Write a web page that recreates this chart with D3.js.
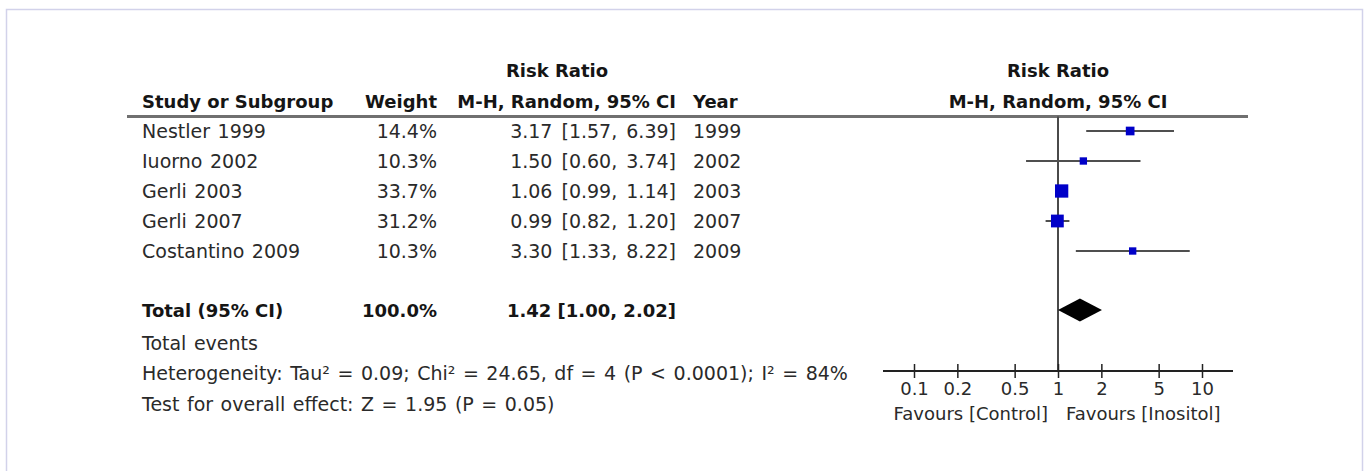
<!DOCTYPE html>
<html>
<head>
<meta charset="utf-8">
<script src="https://cdn.jsdelivr.net/npm/d3@7/dist/d3.min.js"></script>
<style>
  html, body { margin: 0; padding: 0; background: #fff; }
  svg { display: block; }
  text { font-family: "DejaVu Sans", sans-serif; }
</style>
</head>
<body>
<svg id="chart" width="1370" height="471"></svg>
<script>
// Study-level data for the forest plot
const studies = ["Nestler 1999", "Iuorno 2002", "Gerli 2003", "Gerli 2007", "Costantino 2009"];
const weights = [14.4, 10.3, 33.7, 31.2, 10.3];
const riskRatio = [3.17, 1.50, 1.06, 0.99, 3.30];
const ciLower = [1.57, 0.60, 0.99, 0.82, 1.33];
const ciUpper = [6.39, 3.74, 1.14, 1.20, 8.22];
const years = [1999, 2002, 2003, 2007, 2009];

// Pooled estimate
const totalLabel = "Total (95% CI)";
const totalWeight = 100.0;
const totalRR = 1.42;
const totalLower = 1.00;
const totalUpper = 2.02;

// Footer statistics
const footerLines = [
  "Total events",
  "Heterogeneity: Tau² = 0.09; Chi² = 24.65, df = 4 (P < 0.0001); I² = 84%",
  "Test for overall effect: Z = 1.95 (P = 0.05)"
];

// Axis ticks and favour labels
const axisTicks = [0.1, 0.2, 0.5, 1, 2, 5, 10];
const favourLeft = "Favours [Control]";
const favourRight = "Favours [Inositol]";

const svg = d3.select("#chart");

// light frame around the figure
svg.append("rect")
  .attr("x", 6.5).attr("y", 9.5)
  .attr("width", 1356).attr("height", 480)
  .attr("fill", "none")
  .attr("stroke", "#d2d2ea")
  .attr("stroke-width", 1.5);

// scales
const x = d3.scaleLog().domain([0.1, 10]).range([914, 1202]);
const rowY = d3.scaleLinear().domain([0, 1]).range([131, 161]);
const boxSize = d3.scaleSqrt().domain([0, 100]).range([0, 22.9]);

const fs = 18;      // bold headings, axis text
const fsBody = 19;  // table body and footer
const base = 6.5;   // baseline offset from row centre

const colStudy = 142, colWeight = 437, colCI = 676, colYear = 693;

function fmt2(v) { return v.toFixed(2); }
function ciText(r, lo, hi) { return fmt2(r) + " [" + fmt2(lo) + ", " + fmt2(hi) + "]"; }

// header
const hdr = svg.append("g").attr("font-weight", "bold").attr("fill", "#151515").attr("font-size", fs);
hdr.append("text").attr("x", 557).attr("y", 70 + base).attr("text-anchor", "middle").text("Risk Ratio");
hdr.append("text").attr("x", colStudy).attr("y", 101 + base).text("Study or Subgroup");
hdr.append("text").attr("x", colWeight).attr("y", 101 + base).attr("text-anchor", "end").text("Weight");
hdr.append("text").attr("x", colCI).attr("y", 101 + base).attr("text-anchor", "end").text("M-H, Random, 95% CI");
hdr.append("text").attr("x", colYear).attr("y", 101 + base).text("Year");
hdr.append("text").attr("x", x(1)).attr("y", 70 + base).attr("text-anchor", "middle").text("Risk Ratio");
hdr.append("text").attr("x", x(1)).attr("y", 101 + base).attr("text-anchor", "middle").text("M-H, Random, 95% CI");

// header rule
svg.append("line")
  .attr("x1", 127).attr("x2", 1248)
  .attr("y1", 116.5).attr("y2", 116.5)
  .attr("stroke", "#707070").attr("stroke-width", 3);

// study rows
const rows = svg.append("g").attr("font-size", fsBody).attr("word-spacing", 1.5).attr("fill", "#2a2a2a");
studies.forEach((s, i) => {
  const y = rowY(i) + base;
  rows.append("text").attr("x", colStudy).attr("y", y).text(s);
  rows.append("text").attr("x", colWeight).attr("y", y).attr("text-anchor", "end").text(weights[i].toFixed(1) + "%");
  rows.append("text").attr("x", colCI).attr("y", y).attr("text-anchor", "end")
    .attr("word-spacing", 3)
    .text(ciText(riskRatio[i], ciLower[i], ciUpper[i]));
  rows.append("text").attr("x", colYear).attr("y", y).text(years[i]);
});

// total row
const totY = rowY(6) - 1;
const tot = svg.append("g").attr("font-size", fs).attr("font-weight", "bold").attr("fill", "#151515");
tot.append("text").attr("x", colStudy).attr("y", totY + base).text(totalLabel);
tot.append("text").attr("x", colWeight).attr("y", totY + base).attr("text-anchor", "end").text(totalWeight.toFixed(1) + "%");
tot.append("text").attr("x", colCI).attr("y", totY + base).attr("text-anchor", "end")
  .text(ciText(totalRR, totalLower, totalUpper));

// footer
const footY = [343, 373, 404];
const foot = svg.append("g").attr("font-size", fsBody).attr("word-spacing", 1.5).attr("fill", "#2a2a2a");
footerLines.forEach((t, i) => {
  foot.append("text").attr("x", colStudy).attr("y", footY[i] + base).text(t);
});

// forest plot
const axisY = 371;
const plot = svg.append("g");

// line of no effect
plot.append("line")
  .attr("x1", x(1)).attr("x2", x(1))
  .attr("y1", 116.5).attr("y2", axisY)
  .attr("stroke", "#4a4a4a").attr("stroke-width", 2);

// confidence intervals
plot.selectAll("line.ci").data(studies).enter().append("line")
  .attr("class", "ci")
  .attr("x1", (d, i) => x(ciLower[i]))
  .attr("x2", (d, i) => x(ciUpper[i]))
  .attr("y1", (d, i) => rowY(i))
  .attr("y2", (d, i) => rowY(i))
  .attr("stroke", "#4f4f4f").attr("stroke-width", 2);

// weighted point estimates
plot.selectAll("rect.pt").data(studies).enter().append("rect")
  .attr("class", "pt")
  .attr("x", (d, i) => x(riskRatio[i]) - boxSize(weights[i]) / 2)
  .attr("y", (d, i) => rowY(i) - boxSize(weights[i]) / 2)
  .attr("width", (d, i) => boxSize(weights[i]))
  .attr("height", (d, i) => boxSize(weights[i]))
  .attr("fill", "#0000c8");

// pooled diamond
const dh = 11.5;
plot.append("path")
  .attr("d", `M${x(totalLower)},${totY} L${x(totalRR)},${totY - dh} L${x(totalUpper)},${totY} L${x(totalRR)},${totY + dh} Z`)
  .attr("fill", "#000");

// x axis
const axis = d3.axisBottom(x)
  .tickValues(axisTicks)
  .tickFormat(d => String(d))
  .tickSize(7)
  .tickPadding(4);
const ax = svg.append("g").attr("transform", `translate(0,${axisY})`).call(axis);
ax.select(".domain").remove();
ax.append("line")
  .attr("x1", x(1) - 175).attr("x2", x(1) + 175)
  .attr("y1", 0).attr("y2", 0)
  .attr("stroke", "#222").attr("stroke-width", 2);
ax.selectAll(".tick line").attr("y1", -7).attr("y2", 7).attr("stroke", "#222").attr("stroke-width", 1.5);
ax.selectAll(".tick text")
  .attr("font-family", "DejaVu Sans, sans-serif")
  .attr("font-size", fs).attr("fill", "#2a2a2a");

// favour labels
svg.append("text").attr("x", x(1) - 10).attr("y", 413 + base).attr("text-anchor", "end")
  .attr("font-size", fs).attr("fill", "#2a2a2a").text(favourLeft);
svg.append("text").attr("x", x(1) + 8).attr("y", 413 + base)
  .attr("font-size", fs).attr("fill", "#2a2a2a").text(favourRight);
</script>
</body>
</html>
